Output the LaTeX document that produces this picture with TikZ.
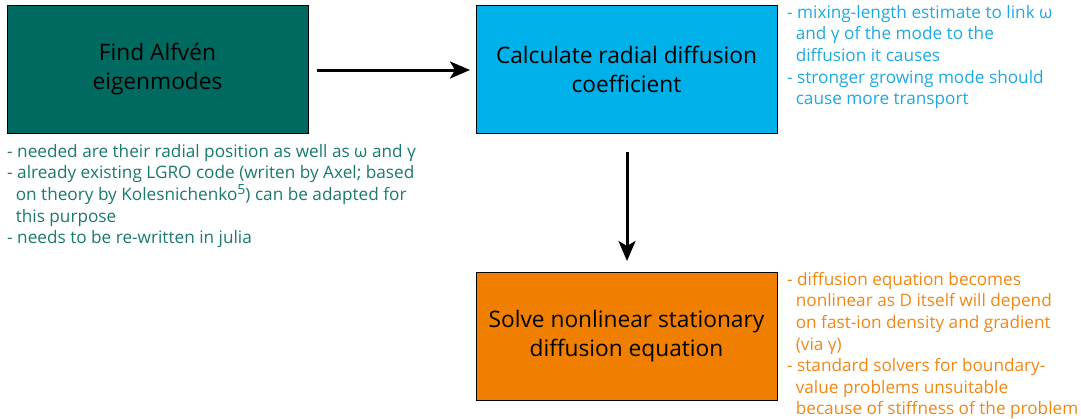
\documentclass[tikz,border=0pt]{standalone}
\usepackage{fontspec}
\setmainfont{Open Sans}
\usetikzlibrary{arrows.meta,calc}
\definecolor{teal1}{RGB}{0,106,96}
\definecolor{tealtxt}{RGB}{26,122,112}
\definecolor{blue1}{RGB}{0,176,232}
\definecolor{bluetxt}{RGB}{30,170,225}
\definecolor{orange1}{RGB}{240,127,0}
\definecolor{orangetxt}{RGB}{240,135,20}
\newcommand{\supfive}{\raisebox{6pt}{\fontsize{14}{14}\selectfont 5}}
\tikzset{
  box/.style={draw=black, line width=1pt, minimum width=301pt, minimum height=128pt, inner sep=0pt, align=center, font=\fontsize{22.7}{29}\selectfont, text=black},
  note/.style={align=left, inner sep=0pt, font=\fontsize{17.2}{21.6}\selectfont},
  arr/.style={-{Stealth[length=20pt,width=17pt,inset=5pt]}, line width=3pt}
}
\begin{document}
\begin{tikzpicture}[x=1pt,y=-1pt]
\useasboundingbox (0,0) rectangle (1081,418);
\node[box, fill=teal1] (find) at (157.5,69) {Find Alfvén\\eigenmodes};
\node[box, fill=blue1] (calc) at (626.5,69) {Calculate radial diffusion\\coefficient};
\node[box, fill=orange1] (solve) at (626.5,336) {Solve nonlinear stationary\\diffusion equation};
\coordinate (a1) at (317,70);
\coordinate (a2) at (470,70);
\coordinate (b1) at (627,152);
\coordinate (b2) at (627,261);
\draw[arr] (a1) -- (a2);
\draw[arr] (b1) -- (b2);
\node[note, text=tealtxt, anchor=north west] (n1) at (7,144) {- needed are their radial position as well as ω and γ\\- already existing LGRO code (writen by Axel; based\\\hspace*{0.5em}on theory by Kolesnichenko\supfive) can be adapted for\\\hspace*{0.5em}this purpose\\- needs to be re-written in julia};
\node[note, text=bluetxt, anchor=north west] (n2) at (787,5) {- mixing-length estimate to link ω\\\hspace*{0.5em}and γ of the mode to the\\\hspace*{0.5em}diffusion it causes\\- stronger growing mode should\\\hspace*{0.5em}cause more transport};
\node[note, text=orangetxt, anchor=north west] (n3) at (787,272) {- diffusion equation becomes\\\hspace*{0.5em}nonlinear as D itself will depend\\\hspace*{0.5em}on fast-ion density and gradient\\\hspace*{0.5em}(via γ)\\- standard solvers for boundary-\\\hspace*{0.5em}value problems unsuitable\\\hspace*{0.5em}because of stiffness of the problem};
\end{tikzpicture}
\end{document}
